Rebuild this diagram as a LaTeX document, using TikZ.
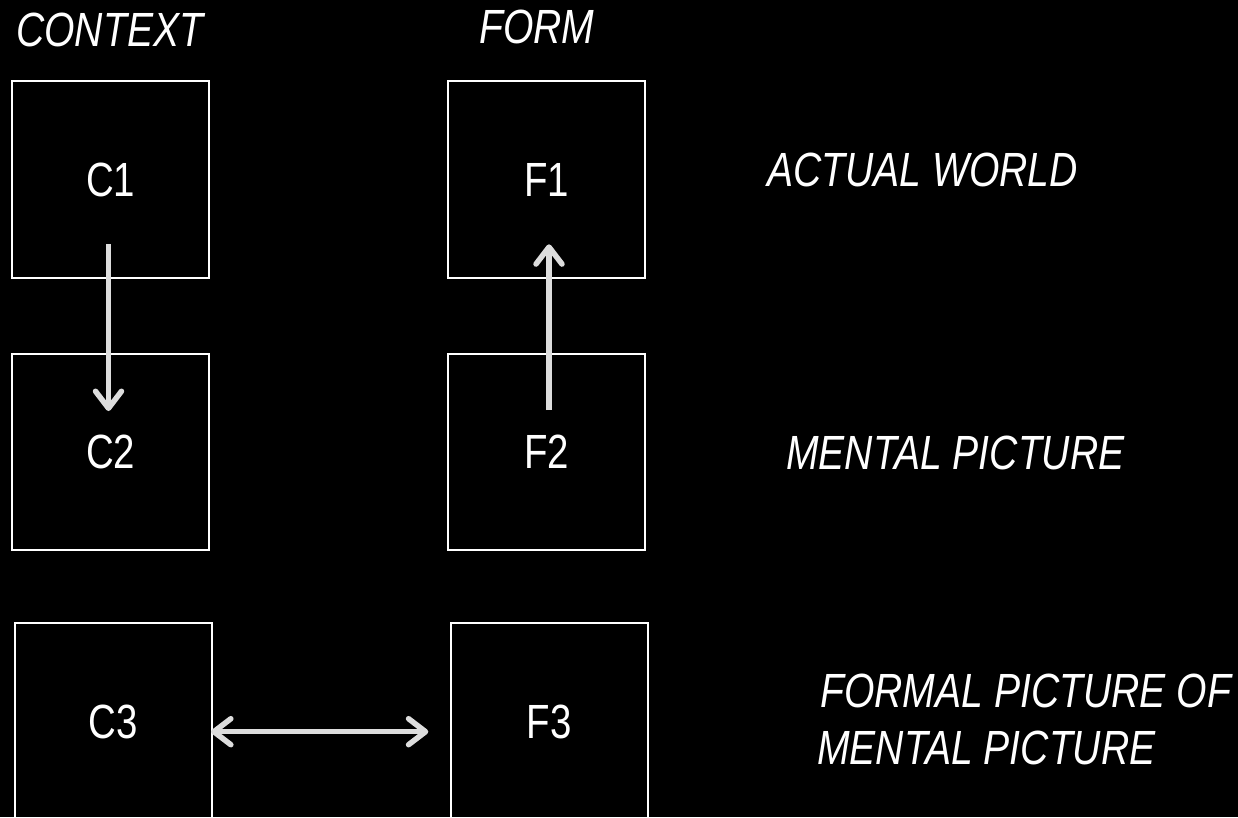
\documentclass[tikz,border=0pt]{standalone}
\usepackage{fontspec}
\setmainfont{Liberation Sans}[FakeStretch=0.8]
\newfontfamily\headfont{Liberation Sans}[FakeStretch=0.815]
\usetikzlibrary{arrows.meta}
\definecolor{arrowgray}{HTML}{DDDDDD}
\begin{document}
\begin{tikzpicture}[x=1pt,y=-1pt,
  box/.style={draw=white, line width=2pt, minimum width=197pt, minimum height=196.4pt,
    inner sep=0pt, text=white, font=\fontsize{48}{57}\selectfont},
  lbl/.style={text=white, font=\headfont\fontsize{48}{57}\selectfont\itshape, inner sep=0pt, anchor=base west},
  tipbarb/.tip={Straight Barb[length=17pt,width=26pt,line cap=round,line join=round]},
  link/.style={draw=arrowgray, line width=5.5pt, -tipbarb},
  biglink/.style={draw=arrowgray, line width=5.5pt, tipbarb-tipbarb}
]
\useasboundingbox (0,0) rectangle (1238,817);
\fill[black] (0,0) rectangle (1238,817);
\clip (0,0) rectangle (1238,817);

% column headings
\node[lbl] (hctx) at (16,46) {CONTEXT};
\node[lbl] (hform) at (479,43) {FORM};

% row headings
\node[lbl] (rworld) at (767,186) {ACTUAL WORLD};
\node[lbl] (rmental) at (786,469) {MENTAL PICTURE};
\node[lbl] (rformal) at (820,707) {FORMAL PICTURE OF};
\node[lbl] (rformalb) at (817,764) {MENTAL PICTURE};

% boxes
\node[box] (C1) at (110.8,179.5) {C1};
\node[box] (F1) at (546.5,179.5) {F1};
\node[box] (C2) at (110.8,452.2) {C2};
\node[box] (F2) at (546.5,452.2) {F2};
\node[box] (C3) at (113.3,721.5) {C3};
\node[box] (F3) at (549,721.5) {F3};

% connectors
\draw[link] ([shift={(-2.3,-34.7)}]C1.south) -- ([shift={(-2.3,-41.2)}]C2.center);
\draw[link] ([shift={(2.5,-42)}]F2.center) -- ([shift={(2.5,-34.4)}]F1.south);
\draw[biglink] ([shift={(-1.7,10.2)}]C3.east) -- ([shift={(-21.2,10.2)}]F3.west);
\end{tikzpicture}
\end{document}
